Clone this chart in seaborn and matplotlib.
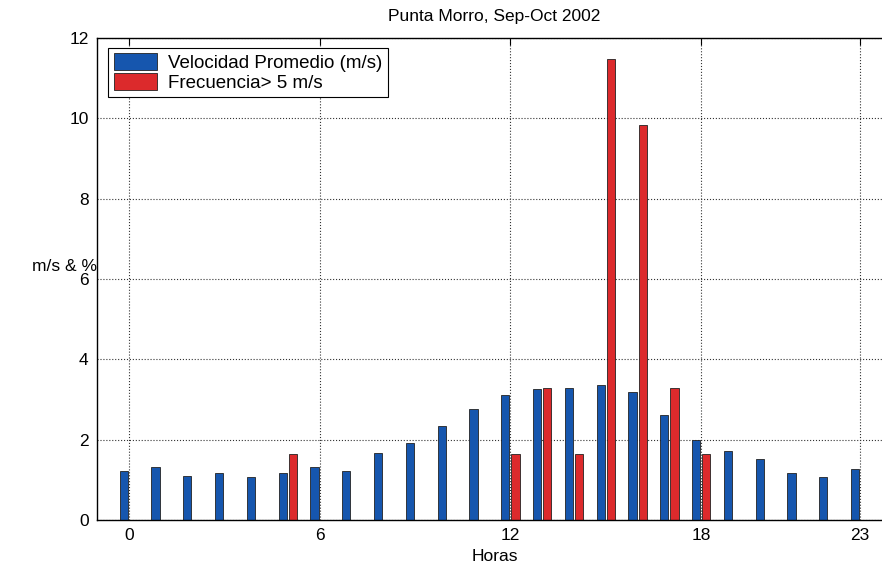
import numpy as np
import pandas as pd
import matplotlib
matplotlib.use('Agg')
import matplotlib.pyplot as plt
import seaborn as sns

# ─── Data ─────────────────────────────────────────────────────────────────────
HOURS = list(range(24))
VELOCIDAD = [1.21, 1.33, 1.10, 1.17, 1.08, 1.17, 1.33, 1.21, 1.67, 1.91, 2.33, 2.77,
             3.12, 3.25, 3.29, 3.35, 3.18, 2.62, 1.98, 1.72, 1.52, 1.17, 1.08, 1.27]
FRECUENCIA = [0, 0, 0, 0, 0, 1.64, 0, 0, 0, 0, 0, 0,
              1.64, 3.28, 1.64, 11.48, 9.84, 3.28, 1.64, 0, 0, 0, 0, 0]
SERIES = ['Velocidad Promedio (m/s)', 'Frecuencia> 5 m/s']
COLORS = ['#1656ae', '#dc2a2c']
XTICKS = [0, 6, 12, 18, 23]
YTICKS = [0, 2, 4, 6, 8, 10, 12]

df = pd.DataFrame({
    'hora': HOURS * 2,
    'valor': VELOCIDAD + FRECUENCIA,
    'serie': [SERIES[0]] * 24 + [SERIES[1]] * 24,
})

# ─── Plot ─────────────────────────────────────────────────────────────────────
sns.set_style('white', {'text.color': 'black', 'xtick.color': 'black',
                        'ytick.color': 'black', 'axes.labelcolor': 'black'})
plt.rcParams['font.family'] = ['Liberation Sans', 'DejaVu Sans']

fig = plt.figure(figsize=(8.82, 5.73), dpi=100)
ax = fig.add_axes([97 / 882, 53 / 573, 795 / 882, 482 / 573])

sns.barplot(data=df, x='hora', y='valor', hue='serie', palette=COLORS,
            saturation=1, width=0.64, gap=0.2, edgecolor='#222222',
            linewidth=0.6, native_scale=True, ax=ax)

ax.set_xlim(-1, 24)
ax.set_ylim(0, 12)
ax.set_xticks(XTICKS)
ax.set_yticks(YTICKS)
ax.tick_params(direction='in', length=5, labelsize=12.5, top=True, right=True,
               color='black', labelcolor='black', width=0.8, pad=6)
ax.grid(True, color='#333333', linestyle=':', linewidth=0.8)
ax.set_axisbelow(True)
for sp in ax.spines.values():
    sp.set_color('black')
    sp.set_linewidth(1.0)

ax.set_title('Punta Morro, Sep-Oct 2002', fontsize=12.5, pad=12, color='black')
ax.set_xlabel('Horas', fontsize=12.5, labelpad=4, color='black')
ax.set_ylabel('m/s & %', fontsize=12.5, rotation=0, ha='right', va='center',
              color='black')
ax.yaxis.set_label_coords(-0.0, 0.525)

leg = ax.legend(loc='upper left', fontsize=13.5, frameon=True, fancybox=False,
                edgecolor='black', framealpha=1, handlelength=2.3,
                handleheight=1.0, borderpad=0.3, labelspacing=0.05,
                handletextpad=0.6, borderaxespad=0,
                bbox_to_anchor=(0.014, 0.98))
leg.get_frame().set_linewidth(0.8)
for t in leg.get_texts():
    t.set_color('black')

fig.savefig('out.png', dpi=100)
